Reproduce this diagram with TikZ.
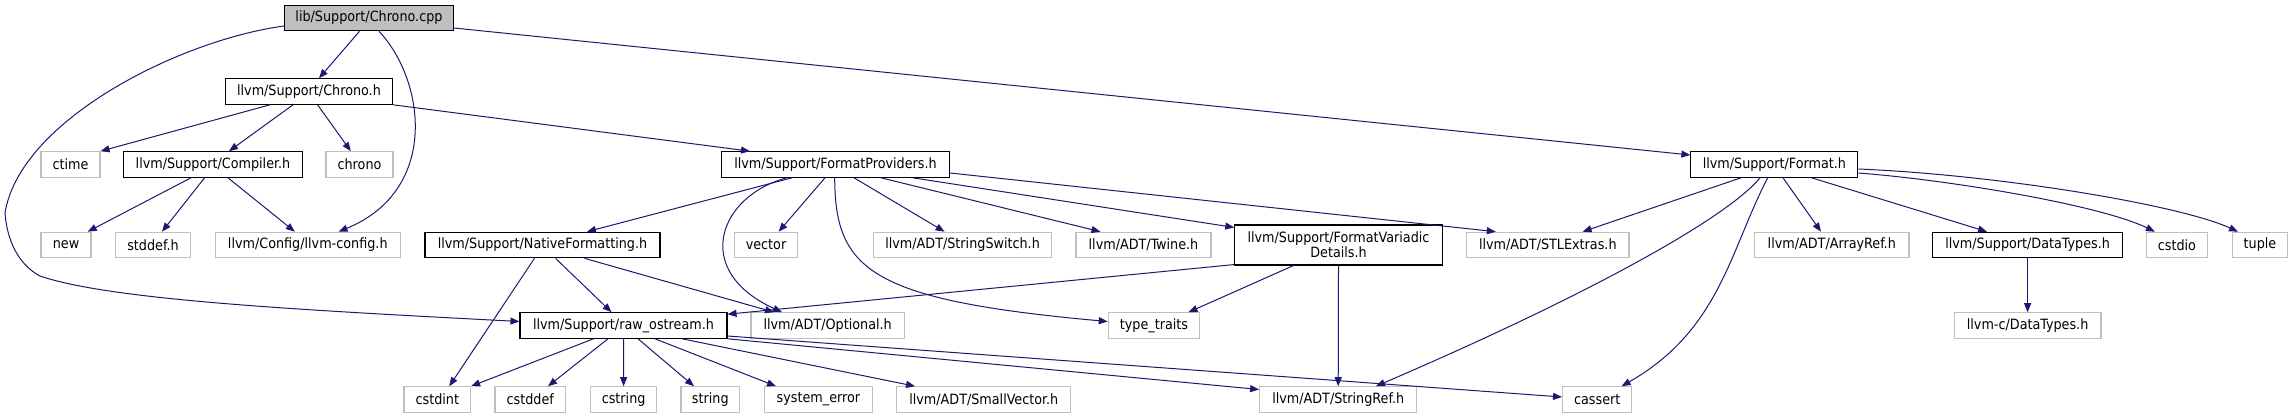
\documentclass[tikz,border=0pt]{standalone}
\usepackage{fontspec}
\setmainfont{DejaVu Sans Condensed}
\usetikzlibrary{arrows.meta}
\definecolor{edgeblue}{HTML}{191970}
\definecolor{sysgray}{HTML}{BFBFBF}
\definecolor{rootfill}{HTML}{BFBFBF}
\tikzset{every picture/.style={>={Triangle[length=9pt,width=7pt]}}}

\begin{document}
\begin{tikzpicture}[
    x=1pt, y=-1pt,
    every node/.style={font=\fontsize{14.2}{15}\selectfont, inner sep=0pt, minimum height=25.5pt},
    hdr/.style={draw=black, line width=1.1pt, fill=white},
    sys/.style={draw=sysgray, line width=1.1pt, fill=white},
    root/.style={draw=black, line width=1.1pt, fill=rootfill},
    dep/.style={->, draw=edgeblue, line width=1pt}
]
\useasboundingbox (0,0) rectangle (2293,417);

% ------------------------------------------------------------
% Files, row by row
% ------------------------------------------------------------

\node[root, minimum width=169pt] (cpp) at (369,18) {lib/Support/Chrono.cpp};

\node[hdr, minimum width=167pt] (chronoh) at (309,91.5) {llvm/Support/Chrono.h};

\node[sys, minimum width=59pt]  (ctime)    at (70.5,164.5)  {ctime};
\node[hdr, minimum width=179pt] (compiler) at (213,164.5)   {llvm/Support/Compiler.h};
\node[sys, minimum width=67pt]  (chrono)   at (359.5,164.5) {chrono};
\node[hdr, minimum width=228pt] (fmtprov)  at (835.5,164.5) {llvm/Support/FormatProviders.h};
\node[hdr, minimum width=167pt] (format)   at (1774.4,164.5) {llvm/Support/Format.h};

\node[sys, minimum width=50pt]    (new)       at (66,245)     {new};
\node[sys, minimum width=75pt]    (stddef)    at (153,245)    {stddef.h};
\node[sys, minimum width=185.5pt] (config)    at (307.8,245)  {llvm/Config/llvm-config.h};
\node[hdr, minimum width=235pt]   (native)    at (542.5,245)  {llvm/Support/NativeFormatting.h};
\node[sys, minimum width=63pt]    (vector)    at (766,245)    {vector};
\node[sys, minimum width=178.6pt] (strswitch) at (962.6,245)  {llvm/ADT/StringSwitch.h};
\node[sys, minimum width=135pt]   (twine)     at (1143.5,245) {llvm/ADT/Twine.h};
\node[hdr, minimum width=207.4pt, minimum height=40pt, align=center]
      (variadic) at (1338.5,245) {llvm/Support/FormatVariadic\\Details.h};
\node[sys, minimum width=162.3pt] (stlextras) at (1547.8,245) {llvm/ADT/STLExtras.h};
\node[sys, minimum width=154.4pt] (arrayref)  at (1831.8,245) {llvm/ADT/ArrayRef.h};
\node[hdr, minimum width=189.5pt] (datatypes) at (2027.6,245) {llvm/Support/DataTypes.h};
\node[sys, minimum width=61.7pt]  (cstdio)    at (2176.9,245) {cstdio};
\node[sys, minimum width=55pt]    (tuple)     at (2260,245)   {tuple};

\node[hdr, minimum width=207pt]   (raw)        at (623.5,325.5)  {llvm/Support/raw\_ostream.h};
\node[sys, minimum width=153.5pt] (optional)   at (827.7,325.5)  {llvm/ADT/Optional.h};
\node[sys, minimum width=91.5pt]  (typetraits) at (1154,325.5)   {type\_traits};
\node[sys, minimum width=146.7pt] (cdatatypes) at (2027.6,325.5) {llvm-c/DataTypes.h};

\node[sys, minimum width=66.6pt]  (cstdint)  at (437.3,399.5)  {cstdint};
\node[sys, minimum width=70.6pt]  (cstddef)  at (530.3,399.5)  {cstddef};
\node[sys, minimum width=66.2pt]  (cstring)  at (623.6,399.5)  {cstring};
\node[sys, minimum width=58.6pt]  (string)   at (710.3,399.5)  {string};
\node[sys, minimum width=107.4pt] (syserr)   at (818.4,399.5)  {system\_error};
\node[sys, minimum width=174.2pt] (smallvec) at (983.8,399.5)  {llvm/ADT/SmallVector.h};
\node[sys, minimum width=157.1pt] (strref)   at (1338.2,399.5) {llvm/ADT/StringRef.h};
\node[sys, minimum width=69.2pt]  (cassert)  at (1597.2,399.5) {cassert};

% ------------------------------------------------------------
% Includes of Chrono.cpp
% ------------------------------------------------------------

\draw[dep] ([xshift=-9.5pt]cpp.south) -- ([xshift=10pt]chronoh.north);
\draw[dep] ([xshift=10pt]cpp.south) .. controls (425,80) and (440,190) .. ([xshift=30.8pt]config.north);
\draw[dep] ([yshift=-8pt]cpp.west) .. controls (180,40) and (20,120) .. (5,213)
    .. controls (8,250) and (25,268) .. (40,276)
    .. controls (110,300) and (300,310) .. ([yshift=4pt]raw.west);
\draw[dep] ([yshift=-10pt]cpp.east) -- ([yshift=9.5pt]format.west);

% ------------------------------------------------------------
% Second and third level
% ------------------------------------------------------------

\draw[dep] ([xshift=-39pt]chronoh.south) -- (ctime.north east);
\draw[dep] ([xshift=-16pt]chronoh.south) -- ([xshift=16pt]compiler.north);
\draw[dep] ([xshift=8.6pt]chronoh.south) -- ([xshift=-8.7pt]chrono.north);
\draw[dep] (chronoh.south east) -- ([xshift=-85.5pt]fmtprov.north);

\draw[dep] ([xshift=-22pt]compiler.south) -- ([xshift=21.7pt]new.north);
\draw[dep] ([xshift=-8.4pt]compiler.south) -- ([xshift=9pt]stddef.north);
\draw[dep] ([xshift=15pt]compiler.south) -- ([xshift=-13pt]config.north);

\draw[dep] ([xshift=-43.5pt]fmtprov.south) -- ([xshift=44.5pt]native.north);
\draw[dep] ([xshift=-48.5pt]fmtprov.south) .. controls (720,195) and (690,270) .. ([xshift=-45.7pt]optional.north);
\draw[dep] ([xshift=-10.5pt]fmtprov.south) -- ([xshift=12.6pt]vector.north);
\draw[dep] ([xshift=-0.8pt]fmtprov.south) .. controls (835,270) and (870,300) .. ([yshift=4pt]typetraits.west);
\draw[dep] ([xshift=18.5pt]fmtprov.south) -- ([xshift=-18pt]strswitch.north);
\draw[dep] ([xshift=45.5pt]fmtprov.south) -- ([xshift=-43pt]twine.north);
\draw[dep] ([xshift=77.3pt]fmtprov.south) -- ([yshift=-3pt]variadic.north west);
\draw[dep] ([yshift=-8.5pt]fmtprov.east) -- ([xshift=-52pt]stlextras.north);

\draw[dep] ([xshift=-33.4pt]format.south) -- ([xshift=34.8pt]stlextras.north);
\draw[dep] ([xshift=-14.4pt]format.south) .. controls (1730,215) and (1600,290) .. ([xshift=37.8pt]strref.north);
\draw[dep] ([xshift=-6.7pt]format.south) .. controls (1730,250) and (1720,330) .. ([xshift=24.4pt]cassert.north);
\draw[dep] ([xshift=8.6pt]format.south) -- ([xshift=-10.8pt]arrayref.north);
\draw[dep] ([xshift=37.2pt]format.south) -- ([xshift=-40.6pt]datatypes.north);
\draw[dep] ([yshift=-8.5pt]format.east) .. controls (1950,180) and (2100,205) .. ([xshift=-22pt]cstdio.north);
\draw[dep] ([yshift=-4.5pt]format.east) .. controls (2000,175) and (2180,205) .. ([xshift=-22pt]tuple.north);

% ------------------------------------------------------------
% Lower levels
% ------------------------------------------------------------

\draw[dep] ([xshift=13pt]native.south) -- ([xshift=-12pt]raw.north);
\draw[dep] ([xshift=-8pt]native.south) -- ([xshift=12pt]cstdint.north);
\draw[dep] ([xshift=42pt]native.south) -- ([xshift=-53.7pt]optional.north);

\draw[dep] ([yshift=1pt]variadic.south west) -- ([yshift=-2pt]raw.north east);
\draw[dep] ([xshift=-45pt]variadic.south) -- ([xshift=34.5pt]typetraits.north);
\draw[dep] (variadic.south) -- (strref.north);

\draw[dep] (datatypes) -- (cdatatypes);

\draw[dep] ([xshift=-30pt]raw.south) -- (cstdint.north east);
\draw[dep] ([xshift=-15.5pt]raw.south) -- ([xshift=17.7pt]cstddef.north);
\draw[dep] (raw.south) -- (cstring.north);
\draw[dep] ([xshift=14.5pt]raw.south) -- ([xshift=-16.3pt]string.north);
\draw[dep] ([xshift=31.5pt]raw.south) -- ([xshift=-42.4pt]syserr.north);
\draw[dep] ([xshift=58.5pt]raw.south) -- ([xshift=-68.8pt]smallvec.north);
\draw[dep] (raw.south east) -- ([yshift=10pt]strref.west);
\draw[dep] ([yshift=-10.5pt]raw.east) -- ([yshift=2.5pt]cassert.west);

\end{tikzpicture}
\end{document}
